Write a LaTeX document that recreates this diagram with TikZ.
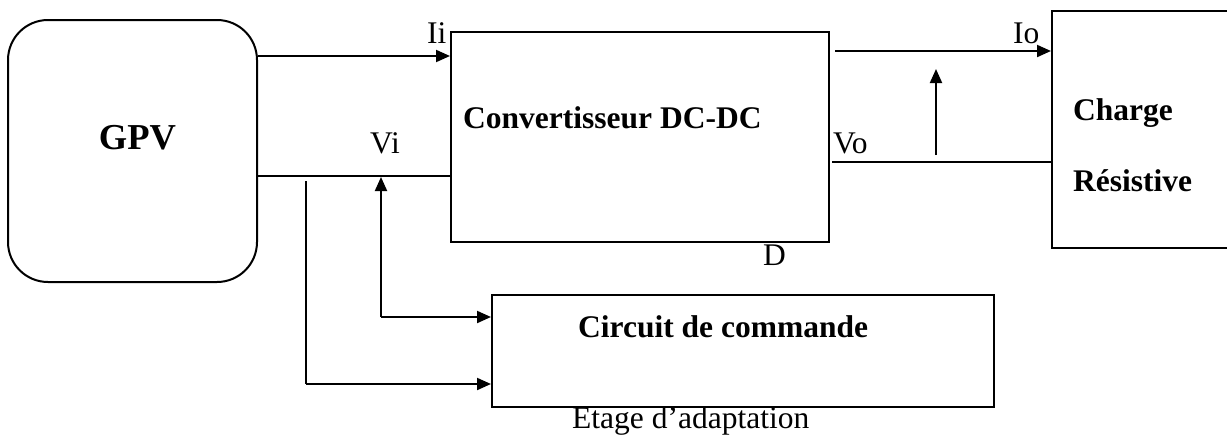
\documentclass[tikz,border=0pt]{standalone}
\usepackage{fontspec}
\setmainfont{Liberation Serif}
\usetikzlibrary{arrows.meta}
\begin{document}
\begin{tikzpicture}[x=1pt,y=-1pt,
  box/.style={draw,line width=2pt,inner sep=0pt,minimum width=#1},
  lbl/.style={inner sep=0pt,anchor=base west,font=\fontsize{31.5}{36}\selectfont},
  blbl/.style={lbl,font=\fontsize{31.5}{36}\selectfont\bfseries},
  wire/.style={line width=2pt},
  arr/.style={wire,-{Triangle[length=14pt,width=12pt]}}]
\useasboundingbox (0,0) rectangle (1227,437);
% blocks
\node[box=249pt,minimum height=262pt,rounded corners=40pt] (gpv) at (132.5,151) {};
\node[box=378pt,minimum height=210pt] (conv) at (640,137) {};
\node[box=178pt,minimum height=237pt] (charge) at (1141,129.5) {};
\node[box=502pt,minimum height=112pt] (circ) at (743,351) {};
% block texts
\node[inner sep=0pt,anchor=base,font=\fontsize{36.5}{40}\selectfont\bfseries] (gpvl) at (137.5,149) {GPV};
\node[blbl] (convl) at (463,128) {Convertisseur DC-DC};
\node[blbl] (chl1) at (1073,120) {Charge};
\node[blbl] (chl2) at (1073,191) {Résistive};
\node[blbl] (circl) at (578,337) {Circuit de commande};
\node[lbl] (etage) at (572,428) {Etage d’adaptation};
% signal labels
\node[lbl] (ii) at (427,43) {Ii};
\node[lbl] (vi) at (370,153) {Vi};
\node[lbl] (io) at (1013,43) {Io};
\node[lbl] (vo) at (833,153) {Vo};
\node[lbl] (d) at (763,265) {D};
% helper coordinates
\coordinate (yI) at (0,56);
\coordinate (yV) at (0,176);
\coordinate (t1) at (306,181);
\coordinate (t2) at (306,384);
\coordinate (vj) at (381,317);
\coordinate (vtop) at (381,177);
\coordinate (io0) at (835,51);
\coordinate (vo0) at (832,162);
\coordinate (vb) at (936,155);
\coordinate (vt) at (936,69);
% connectors
\draw[arr] (gpv.east |- yI) -- (conv.west |- yI);
\draw[wire] (gpv.east |- yV) -- (conv.west |- yV);
\draw[wire] (t1) -- (t2);
\draw[arr] (t2) -- (circ.west |- t2);
\draw[arr] (vj) -- (vtop);
\draw[arr] (vj) -- (circ.west |- vj);
\draw[arr] (io0) -- (charge.west |- io0);
\draw[wire] (vo0) -- (charge.west |- vo0);
\draw[arr] (vb) -- (vt);
\end{tikzpicture}
\end{document}
